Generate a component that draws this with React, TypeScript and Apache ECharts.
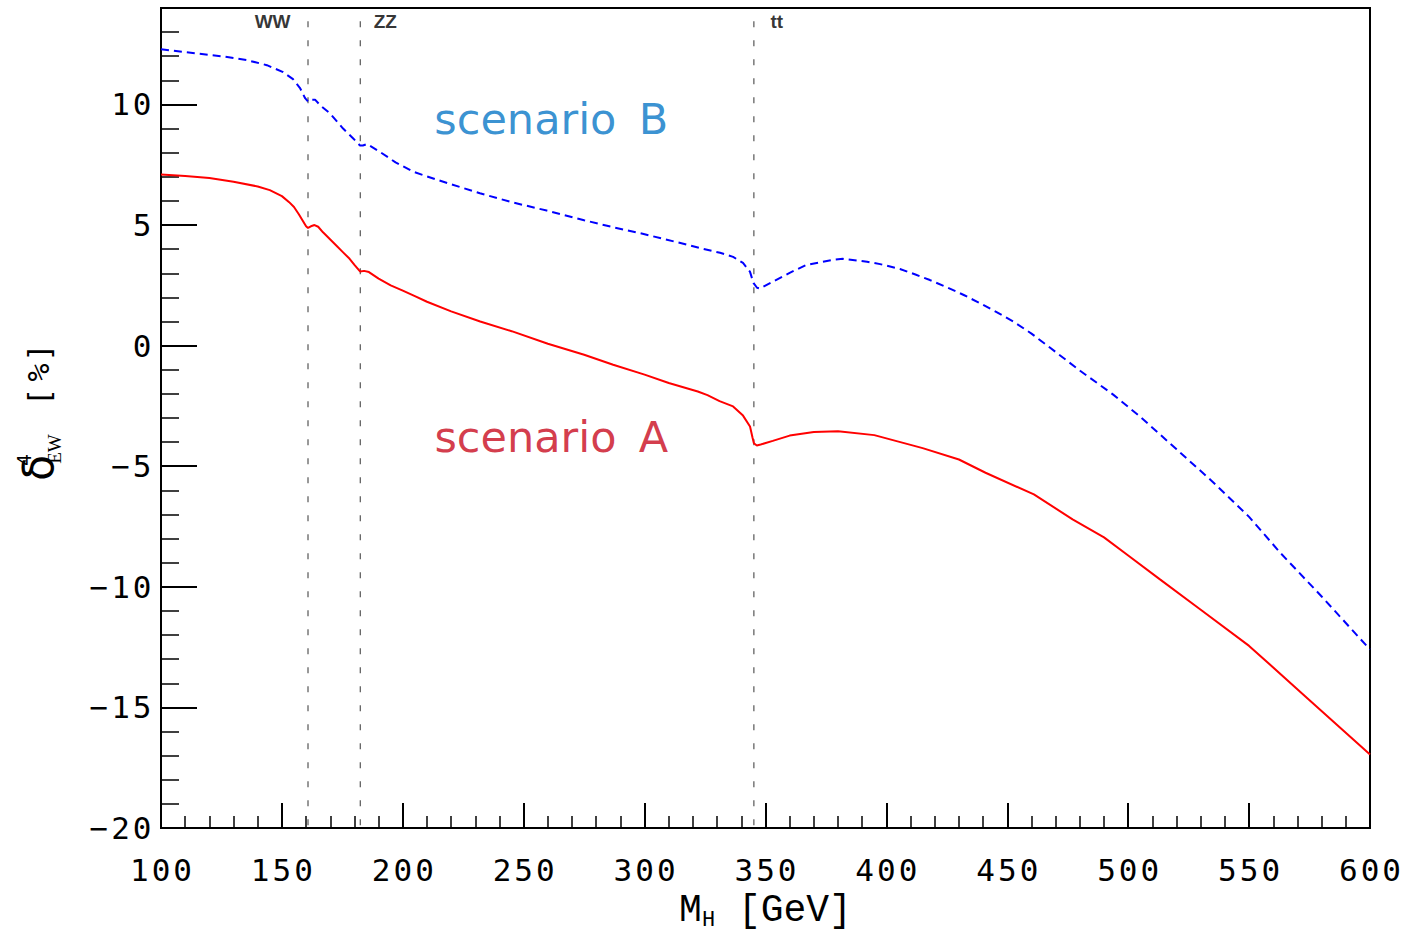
import React, { useEffect, useRef } from "react";
import * as echarts from "echarts";

// Scenario A (solid red)
const massA = [100, 110, 120, 130, 140, 145, 150, 153, 155, 157, 158.5, 160, 160.8, 162, 163.5, 165, 167, 170, 173, 175, 178, 180, 182.4, 184, 186, 190, 195, 200, 205, 210, 220, 232, 245, 260, 275, 287, 300, 310, 322, 326, 331, 336.6, 340.7, 343.6, 344.6, 345.2, 346.4, 348, 353, 360, 370, 380, 395, 405, 415, 430, 441, 461, 477, 490, 500, 513, 530, 550, 575, 600];
const deltaA = [7.1, 7.03, 6.95, 6.8, 6.6, 6.45, 6.2, 5.95, 5.75, 5.45, 5.2, 4.95, 4.88, 4.95, 5.0, 4.93, 4.7, 4.4, 4.1, 3.9, 3.6, 3.35, 3.07, 3.1, 3.05, 2.78, 2.5, 2.28, 2.05, 1.82, 1.42, 1.0, 0.6, 0.08, -0.38, -0.79, -1.2, -1.55, -1.9, -2.05, -2.3, -2.52, -2.9, -3.35, -3.8, -4.05, -4.14, -4.1, -3.95, -3.73, -3.58, -3.55, -3.71, -3.98, -4.25, -4.72, -5.27, -6.17, -7.2, -7.95, -8.7, -9.68, -10.95, -12.45, -14.7, -16.95];

// Scenario B (dashed blue)
const massB = [100, 116, 125, 135.5, 143.8, 150.5, 154.6, 157.5, 159.6, 160.8, 162, 163.7, 166, 169.9, 175.3, 179.4, 182.3, 183.5, 185.2, 190.6, 197, 204.3, 215, 231.9, 245, 259.5, 275, 287, 300, 313, 324.3, 331.2, 336.6, 340.7, 343.6, 345, 346.5, 347.7, 353, 360, 367, 378, 382, 392, 397.4, 405.6, 412, 418, 425, 432, 438.7, 445, 452.5, 460, 466.3, 480.1, 493.8, 505, 520, 535, 550, 563, 580, 600];
const deltaB = [12.29, 12.1, 12.0, 11.84, 11.63, 11.34, 11.05, 10.68, 10.26, 10.12, 10.2, 10.2, 9.95, 9.63, 9.0, 8.6, 8.3, 8.3, 8.36, 8.03, 7.6, 7.21, 6.85, 6.32, 5.95, 5.6, 5.2, 4.91, 4.62, 4.3, 4.01, 3.85, 3.68, 3.43, 3.06, 2.6, 2.4, 2.37, 2.65, 3.02, 3.35, 3.56, 3.6, 3.48, 3.38, 3.18, 2.95, 2.72, 2.42, 2.1, 1.76, 1.42, 1.0, 0.5, 0.02, -1.04, -2.03, -2.95, -4.3, -5.65, -7.1, -8.6, -10.4, -12.6];

// Thresholds (vertical dashed lines)
const thresholds = [160.8, 182.4, 345.2];
const thresholdLabels = ["WW", "ZZ", "tt"];
const thresholdTop = 13.45;

// Scenario annotations
const scenarioTexts = ["scenario\u2009 B", "scenario\u2009 A"];
const scenarioPos = [[261.4, 9.4], [261.4, -3.8]];
const scenarioColors = ["#0676c6", "#c8081c"];

const xMin = 100, xMax = 600, xStep = 50;
const yMin = -20, yMax = 14, yStep = 5;

const spaced = (s: string) =>
  s.replace("-", "\u2212").split("").map((c) => `{d|${c}}`).join("");

export default function App() {
  const ref = useRef<HTMLDivElement>(null);
  useEffect(() => {
    const chart = echarts.init(ref.current!, null, { renderer: "svg" });
    const tickFont = { fontFamily: "DejaVu Sans Mono", fontSize: 31, color: "#000" };
    const series: any[] = [
      {
        type: "line",
        data: massA.map((m, i) => [m, deltaA[i]]),
        symbol: "none",
        lineStyle: { color: "#ff0000", width: 2 },
        silent: true,
        z: 5,
      },
      {
        type: "line",
        data: massB.map((m, i) => [m, deltaB[i]]),
        symbol: "none",
        lineStyle: { color: "#0000ff", width: 2, type: [8, 5] },
        silent: true,
        z: 5,
      },
    ];
    thresholds.forEach((t, i) => {
      series.push({
        type: "line",
        data: [[t, thresholdTop], [t, yMin]],
        symbol: "none",
        lineStyle: { color: "#333", width: 1, type: [6, 13] },
        silent: true,
        z: 3,
      });
      series.push({
        type: "scatter",
        data: [[t, thresholdTop]],
        symbolSize: 1,
        itemStyle: { color: "rgba(0,0,0,0)" },
        silent: true,
        label: {
          show: true,
          formatter: thresholdLabels[i],
          position: i === 0 ? "left" : "right",
          distance: i === 0 ? 17 : i === 1 ? 13 : 16,
          fontFamily: "Liberation Sans",
          fontWeight: "bold",
          fontSize: 19,
          color: "#000",
        },
      });
    });
    scenarioTexts.forEach((txt, i) => {
      series.push({
        type: "scatter",
        data: [scenarioPos[i]],
        symbolSize: 1,
        itemStyle: { color: "rgba(0,0,0,0)" },
        silent: true,
        label: {
          show: true,
          formatter: txt,
          position: "inside",
          fontFamily: "DejaVu Sans",
          fontSize: 43,
          color: scenarioColors[i],
        },
      });
    });

    chart.setOption({
      animation: false,
      backgroundColor: "#fff",
      grid: {
        left: 161,
        right: 41,
        top: 8,
        bottom: 107,
        containLabel: false,
        outerBoundsMode: "none",
        show: true,
        borderColor: "#000",
        borderWidth: 2,
        backgroundColor: "transparent",
      },
      xAxis: {
        type: "value",
        min: xMin,
        max: xMax,
        interval: xStep,
        name: "{m|M}{s|H}{m| [GeV]}",
        nameLocation: "middle",
        nameGap: 56,
        nameTextStyle: {
          rich: {
            m: { fontFamily: "Liberation Mono", fontSize: 38, color: "#000", lineHeight: 40 },
            s: { fontFamily: "Liberation Mono", fontSize: 22, color: "#000", padding: [20, 0, 0, 0], lineHeight: 22 },
          },
        },
        axisLine: { onZero: false, lineStyle: { color: "#000", width: 2 } },
        axisTick: { inside: true, length: 25, lineStyle: { color: "#000", width: 2 } },
        minorTick: { show: true, splitNumber: 5, length: 12, lineStyle: { color: "#000", width: 1.5 } },
        splitLine: { show: false },
        minorSplitLine: { show: false },
        axisLabel: {
          margin: 26,
          formatter: (v: number) => spaced(String(v)),
          rich: { d: { ...tickFont, width: 21.7, align: "center" } },
        },
      },
      yAxis: [
        {
          type: "value",
          min: yMin,
          max: yMax,
          interval: yStep,
          axisLine: { onZero: false, lineStyle: { color: "#000", width: 2 } },
          axisTick: { inside: true, length: 36, lineStyle: { color: "#000", width: 2 } },
          splitLine: { show: false },
          axisLabel: {
            margin: 8,
            showMaxLabel: false,
            formatter: (v: number) => (v === yMax ? "" : spaced(String(v))),
            rich: { d: { ...tickFont, width: 21.7, align: "center" } },
          },
        },
        {
          type: "value",
          position: "left",
          min: yMin,
          max: yMax,
          interval: 1,
          axisLine: { show: false, onZero: false },
          axisTick: { inside: true, length: 18, lineStyle: { color: "#000", width: 1.5 } },
          axisLabel: { show: false },
          splitLine: { show: false },
        },
      ],
      graphic: [
        {
          type: "group",
          x: 55,
          y: 482,
          rotation: Math.PI / 2,
          silent: true,
          children: [
            { type: "text", x: 14, y: -17, style: { text: "\u03b4", font: "42px 'DejaVu Sans'", fill: "#000", align: "center", verticalAlign: "middle" } },
            { type: "text", x: 22, y: -31, style: { text: "4", font: "19px 'DejaVu Sans'", fill: "#000", align: "center", verticalAlign: "middle" } },
            { type: "text", x: 33, y: -1, style: { text: "EW", font: "19px 'Liberation Serif'", fill: "#000", align: "center", verticalAlign: "middle" } },
            { type: "text", x: 85, y: -16, style: { text: "[", font: "30px 'DejaVu Sans Mono'", fill: "#000", align: "center", verticalAlign: "middle" } },
            { type: "text", x: 109.5, y: -16.5, style: { text: "%", font: "30px 'DejaVu Sans Mono'", fill: "#000", align: "center", verticalAlign: "middle" } },
            { type: "text", x: 129.5, y: -16, style: { text: "]", font: "30px 'DejaVu Sans Mono'", fill: "#000", align: "center", verticalAlign: "middle" } },
          ],
        },
      ],
      series,
    });
    return () => chart.dispose();
  }, []);
  return (
    <div
      ref={ref}
      style={{ position: "fixed", left: 0, top: 0, width: 1411, height: 935, background: "#fff" }}
    />
  );
}
